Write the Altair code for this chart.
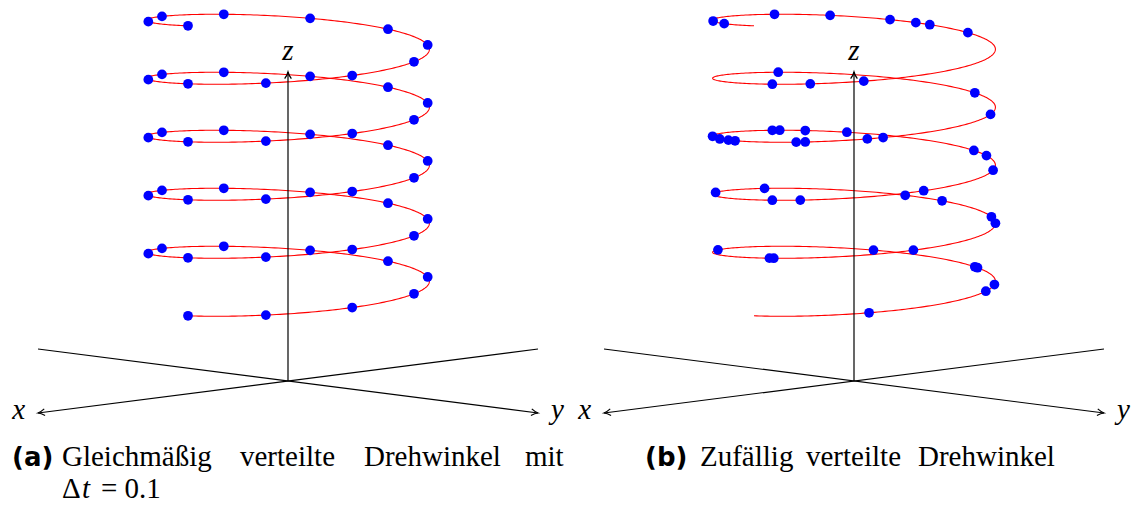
import math

import altair as alt
import pandas as pd

# ---------------------------------------------------------------
# Scene, in axis units
# ---------------------------------------------------------------
AXIS_HALF = 1.0      # x and y axes run from -1 to +1 (arrow at +1)
Z_TOP = 1.236        # length of the z axis
RADIUS = 0.4         # helix radius
Z_START = 0.312      # helix height at t = 0
PITCH = 0.232        # rise of the helix per unit of t (one full turn)
T_END = 5.0          # t runs from 0 to 5 -> five turns
DT = 0.1             # step of the evenly spaced rotation angles (panel a)

# oblique projection: drawing-plane direction (right, up) of one unit along x, y, z
PROJ = {"x": (-1.0, -0.128), "y": (1.0, -0.128), "z": (0.0, 1.0)}

# randomly drawn rotation parameters (panel b)
T_RANDOM = [
    0.142, 0.316, 0.356, 0.456, 0.462, 0.603, 0.831,
    1.023, 1.029, 1.194, 1.375, 1.413, 1.518, 1.566, 1.734, 1.842,
    2.027, 2.063, 2.207, 2.346, 2.432, 2.464, 2.633, 2.681, 2.713,
    2.723, 2.876, 2.926, 2.951, 2.966,
    3.058, 3.069, 3.140, 3.158, 3.333, 3.462, 3.715,
    4.027, 4.075, 4.136, 4.476, 4.535, 4.553, 4.584, 4.652, 4.720,
    4.889, 4.940,
]

AXIS_NAMES = ["x", "y", "z"]

# caption words (justified line in panel a, plain line in panel b)
CAPTION_A_WORDS = ["Gleichmäßig", "verteilte", "Drehwinkel", "mit"]
CAPTION_B_WORDS = ["Zufällig", "verteilte", "Drehwinkel"]

# ---------------------------------------------------------------
# Layout (pixels)
# ---------------------------------------------------------------
PX_PER_UNIT = 250
ORIGIN_PX = (288, 381)
PANEL_W = [566, 568]
PANEL_H = 505

CAPTION_A_X = [62, 240, 364, 525]
CAPTION_B_X = [700, 806, 918]
PANEL_B_LEFT = PANEL_W[0]
CAPTION_SIZE = 29

SERIF = "'Liberation Serif', 'Times New Roman', serif"
SANS_BOLD = "'DejaVu Sans', sans-serif"
RED = "#ff0000"
BLUE = "#0000ff"

# open "to"-style arrow tip pointing along +x, tip at (0, 0)
ARROW_PATH = "M -1 -0.5 Q -0.45 -0.12 0 0 Q -0.45 0.12 -1 0.5"


def project(X, Y, Z):
    u = X * PROJ["x"][0] + Y * PROJ["y"][0] + Z * PROJ["z"][0]
    w = X * PROJ["x"][1] + Y * PROJ["y"][1] + Z * PROJ["z"][1]
    return u, w


# coordinate axes: start and end point of each axis
axis_ends = {
    "x": ((-AXIS_HALF, 0, 0), (AXIS_HALF, 0, 0)),
    "y": ((0, -AXIS_HALF, 0), (0, AXIS_HALF, 0)),
    "z": ((0, 0, 0), (0, 0, Z_TOP)),
}
rows = []
for name in AXIS_NAMES:
    a, b = axis_ends[name]
    u0, w0 = project(*a)
    u1, w1 = project(*b)
    # screen rotation of the arrow tip (clockwise degrees, screen y pointing down)
    ang = math.degrees(math.atan2(-(w1 - w0), u1 - u0)) % 360
    rows.append({"axis": name, "u0": u0, "w0": w0, "u1": u1, "w1": w1, "angle": ang})
axes_df = pd.DataFrame(rows)


def helix_projection(chart):
    ex, ey, ez = PROJ["x"], PROJ["y"], PROJ["z"]
    return chart.transform_calculate(
        X=f"{RADIUS} * cos(2 * PI * datum.t)",
        Y=f"{RADIUS} * sin(2 * PI * datum.t)",
        Z=f"{Z_START} + {PITCH} * datum.t",
    ).transform_calculate(
        u=f"datum.X * ({ex[0]}) + datum.Y * ({ey[0]}) + datum.Z * ({ez[0]})",
        w=f"datum.X * ({ex[1]}) + datum.Y * ({ey[1]}) + datum.Z * ({ez[1]})",
    )


def caption_text(text, x, y, font=SERIF, size=CAPTION_SIZE, weight="normal", style="normal"):
    return alt.Chart(pd.DataFrame({"s": [text]})).mark_text(
        font=font, fontSize=size, fontWeight=weight, fontStyle=style,
        align="left", baseline="alphabetic", color="black",
    ).encode(x=alt.value(x), y=alt.value(y), text="s:N")


def panel(points_chart, width, captions):
    ox, oy = ORIGIN_PX
    xs = alt.Scale(domain=[-ox / PX_PER_UNIT, (width - ox) / PX_PER_UNIT], nice=False, zero=False)
    ys = alt.Scale(domain=[-(PANEL_H - oy) / PX_PER_UNIT, oy / PX_PER_UNIT], nice=False, zero=False)

    curve = helix_projection(
        alt.Chart(alt.sequence(0, T_END + 0.0001, 0.004, as_="t"))
    ).mark_line(color=RED, strokeWidth=1.1).encode(
        x=alt.X("u:Q", scale=xs, axis=None),
        y=alt.Y("w:Q", scale=ys, axis=None),
        order=alt.Order("t:Q"),
    )

    rules = alt.Chart(axes_df).mark_rule(color="black", strokeWidth=1.2).encode(
        x=alt.X("u0:Q", scale=xs, axis=None),
        y=alt.Y("w0:Q", scale=ys, axis=None),
        x2="u1:Q",
        y2="w1:Q",
    )

    heads = alt.Chart(axes_df).mark_point(
        shape=ARROW_PATH, filled=False, size=180, stroke="black",
        strokeWidth=1.2, opacity=1,
    ).encode(
        x=alt.X("u1:Q", scale=xs, axis=None),
        y=alt.Y("w1:Q", scale=ys, axis=None),
        angle=alt.Angle("angle:Q", scale=None),
    )

    def axis_label(name, text, dx, dy, align):
        return alt.Chart(axes_df).transform_filter(
            alt.datum.axis == name
        ).transform_calculate(lab=f"'{text}'").mark_text(
            font=SERIF, fontSize=29, fontStyle="italic", align=align,
            baseline="middle", dx=dx, dy=dy, color="black",
        ).encode(
            x=alt.X("u1:Q", scale=xs, axis=None),
            y=alt.Y("w1:Q", scale=ys, axis=None),
            text="lab:N",
        )

    labels = [
        axis_label("x", "x", -13, -3, "right"),
        axis_label("y", "y", 13, -3, "left"),
        axis_label("z", "z", 0, -21, "center"),
    ]

    dots = helix_projection(points_chart).mark_circle(
        color=BLUE, size=95, opacity=1
    ).encode(
        x=alt.X("u:Q", scale=xs, axis=None),
        y=alt.Y("w:Q", scale=ys, axis=None),
    )

    return alt.layer(curve, rules, heads, dots, *labels, *captions).properties(
        width=width, height=PANEL_H
    )


# panel (a): evenly spaced rotation angles, t = 0, 0.1, ..., 5
points_a = alt.Chart(alt.sequence(0, T_END + DT / 2, DT, as_="t"))
captions_a = [caption_text("(a)", 12, 466, font=SANS_BOLD, size=26, weight="bold")]
captions_a += [caption_text(w, x, 466) for w, x in zip(CAPTION_A_WORDS, CAPTION_A_X)]
captions_a += [
    caption_text("Δ", 62, 498),
    caption_text("t", 82, 498, style="italic"),
    caption_text("= 0.1", 101, 498),
]

# panel (b): randomly distributed rotation angles
points_b = alt.Chart(pd.DataFrame({"t": T_RANDOM}))
captions_b = [caption_text("(b)", 645 - PANEL_B_LEFT, 466, font=SANS_BOLD, size=26, weight="bold")]
captions_b += [
    caption_text(w, x - PANEL_B_LEFT, 466) for w, x in zip(CAPTION_B_WORDS, CAPTION_B_X)
]

chart = alt.hconcat(
    panel(points_a, PANEL_W[0], captions_a),
    panel(points_b, PANEL_W[1], captions_b),
    spacing=0,
).properties(
    padding=0,
    background="white",
).configure_view(stroke=None)

chart.save("out.html", embed_options={"renderer": "svg", "actions": False})
